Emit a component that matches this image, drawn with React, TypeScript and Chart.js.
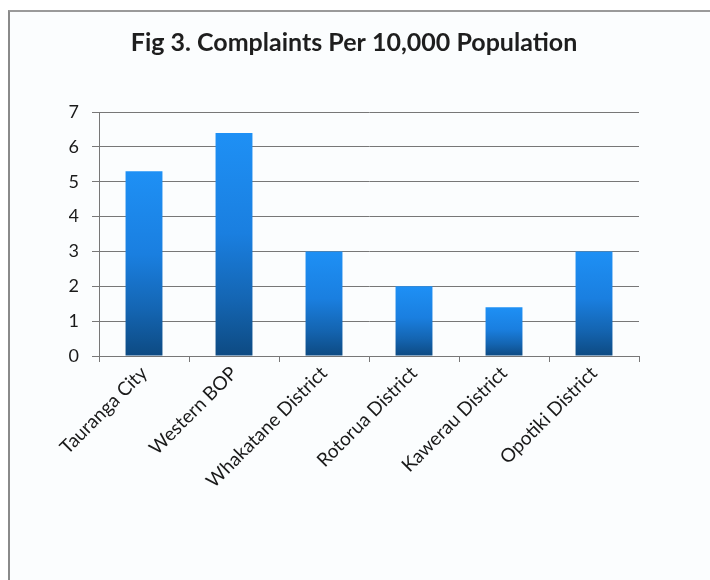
import React, { useEffect, useRef } from "react";
import { Chart, registerables } from "chart.js";

Chart.register(...registerables);

const categories = [
  "Tauranga City",
  "Western BOP",
  "Whakatane District",
  "Rotorua District",
  "Kawerau District",
  "Opotiki District",
];
const complaintsPer10k = [5.3, 6.4, 3.0, 2.0, 1.4, 3.0];
const yTicks = [0, 1, 2, 3, 4, 5, 6, 7];
const titleText = "Fig 3. Complaints Per 10,000 Population";

export default function App() {
  const ref = useRef<HTMLCanvasElement | null>(null);

  useEffect(() => {
    if (!ref.current) return;
    const chart = new Chart(ref.current, {
      type: "bar",
      data: {
        labels: categories,
        datasets: [
          {
            data: complaintsPer10k,
            backgroundColor: (ctx: any) => {
              const c = ctx.chart;
              const ys = c.scales?.y;
              if (!ys || ctx.parsed == null) return "#1a7fe0";
              const top = ys.getPixelForValue(ctx.parsed.y);
              const bottom = ys.getPixelForValue(0);
              if (!isFinite(top) || !isFinite(bottom) || top === bottom) return "#1a7fe0";
              const g = c.ctx.createLinearGradient(0, top, 0, bottom);
              g.addColorStop(0, "#1e90f5");
              g.addColorStop(0.45, "#1a7fe0");
              g.addColorStop(0.75, "#1465b2");
              g.addColorStop(1, "#0d4a82");
              return g;
            },
            borderWidth: 0,
            barPercentage: 0.41,
            categoryPercentage: 1,
          },
        ],
      },
      options: {
        animation: false,
        responsive: false,
        maintainAspectRatio: false,
        layout: { padding: { left: 59, right: 71, top: 0, bottom: 0 } },
        plugins: {
          legend: { display: false },
          tooltip: { enabled: false },
          title: {
            display: true,
            text: titleText,
            color: "#1e1e1e",
            font: { family: "Lato", size: 25, weight: "bold" },
            padding: { top: 16, bottom: 54 },
          },
        },
        scales: {
          x: {
            afterFit: (s: any) => {
              s.height = 224;
            },
            grid: {
              display: true,
              drawOnChartArea: false,
              drawTicks: true,
              tickLength: 6,
              color: "#777",
              offset: true,
            },
            border: { display: true, color: "#777", width: 1 },
            ticks: {
              color: "#1a1a1a",
              font: { family: "Lato", size: 19 },
              maxRotation: 45,
              minRotation: 45,
              padding: 0,
            },
          },
          y: {
            min: 0,
            max: 7,
            afterFit: (s: any) => {
              s.width = 30;
            },
            afterBuildTicks: (s: any) => {
              s.ticks = yTicks.map((v) => ({ value: v }));
            },
            grid: {
              color: "#777",
              lineWidth: 1,
              drawTicks: true,
              tickLength: 7,
            },
            border: { display: true, color: "#777", width: 1 },
            ticks: {
              color: "#1a1a1a",
              font: { family: "Lato", size: 18 },
              padding: 13,
            },
          },
        },
      },
    });
    return () => chart.destroy();
  }, []);

  return (
    <div
      style={{
        position: "fixed",
        left: 8,
        top: 10,
        width: 702,
        height: 570,
        borderLeft: "2px solid #8a8a8a",
        borderTop: "2px solid #9a9a9a",
        background: "#fbfdfe",
      }}
    >
      <canvas ref={ref} width={700} height={568} style={{ display: "block" }} />
    </div>
  );
}
